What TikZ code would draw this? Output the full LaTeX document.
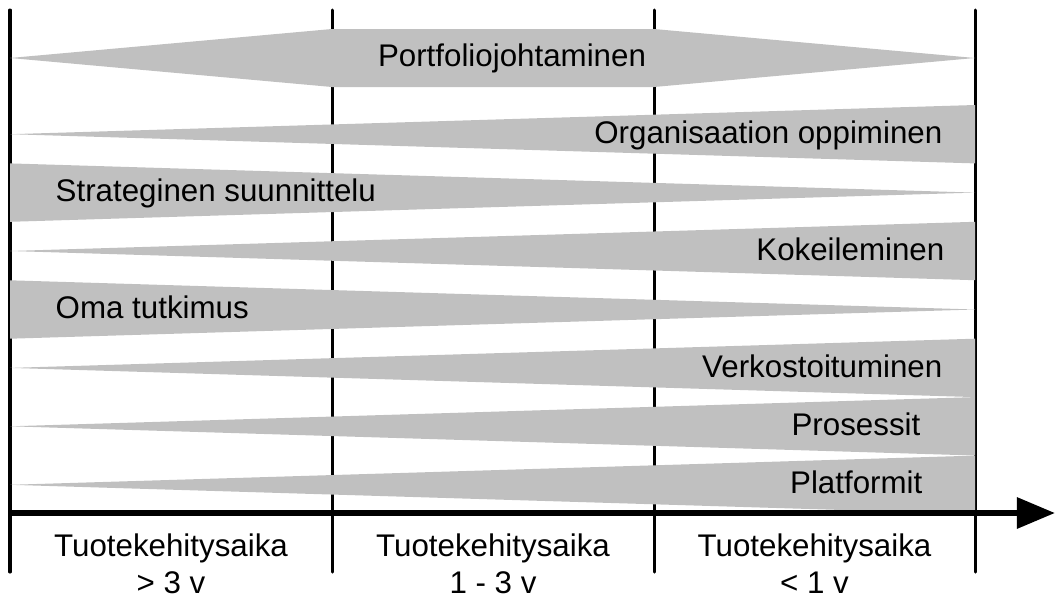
\documentclass[tikz,border=0pt]{standalone}
\usepackage{fontspec}
\setmainfont{Liberation Sans}
\usetikzlibrary{arrows.meta}
\definecolor{bandgray}{RGB}{192,192,192}

\begin{document}
\begin{tikzpicture}[x=0.01cm,y=-0.01cm,
  band/.style={fill=bandgray},
  divider/.style={line width=0.03cm,line cap=round},
  lbl/.style={font=\fontsize{8.9}{10.5}\selectfont,inner sep=0pt}]
\useasboundingbox (0,0) rectangle (1055,597);

% Time period dividers
\foreach \x in {10,332,654,975} {
    \draw[divider] (\x,10) -- (\x,572);
}

% Activity bands (two-way, growing, shrinking)
\fill[band] (10,58) -- (332,29) -- (654,29) -- (975,58) -- (654,87) -- (332,87) -- cycle;
\foreach \c in {134.2,251,367.9,426.3,484.8} {
    \fill[band] (10,\c) -- (975,\c-29.2) -- (975,\c+29.2) -- cycle;
}
\foreach \c in {192.6,309.5} {
    \fill[band] (10,\c-29.2) -- (975,\c) -- (10,\c+29.2) -- cycle;
}

% Time axis
\coordinate (t0) at (8,513);
\coordinate (t1) at (1055,513);
\draw[line width=0.06cm,-{Triangle[length=0.38cm,width=0.3cm]}] (t0) -- (t1);

% Band labels
\node[lbl,anchor=base] (portfolio) at (512,67) {Portfoliojohtaminen};
\node[lbl,anchor=base east] (oppiminen) at (943,143.5) {Organisaation oppiminen};
\node[lbl,anchor=base west] (strategia) at (55,201.8) {Strateginen suunnittelu};
\node[lbl,anchor=base east] (kokeilu) at (945,260) {Kokeileminen};
\node[lbl,anchor=base west] (tutkimus) at (55,318.5) {Oma tutkimus};
\node[lbl,anchor=base east] (verkosto) at (943,377) {Verkostoituminen};
\node[lbl,anchor=base east] (prosessit) at (921,435.3) {Prosessit};
\node[lbl,anchor=base east] (platformit) at (923,493.5) {Platformit};

% Development time labels
\node[lbl,anchor=base,align=center] (pitka) at (171,593) {Tuotekehitysaika\\> 3 v};
\node[lbl,anchor=base,align=center] (keski) at (493,593) {Tuotekehitysaika\\1 - 3 v};
\node[lbl,anchor=base,align=center] (lyhyt) at (814.5,593) {Tuotekehitysaika\\< 1 v};
\end{tikzpicture}
\end{document}
